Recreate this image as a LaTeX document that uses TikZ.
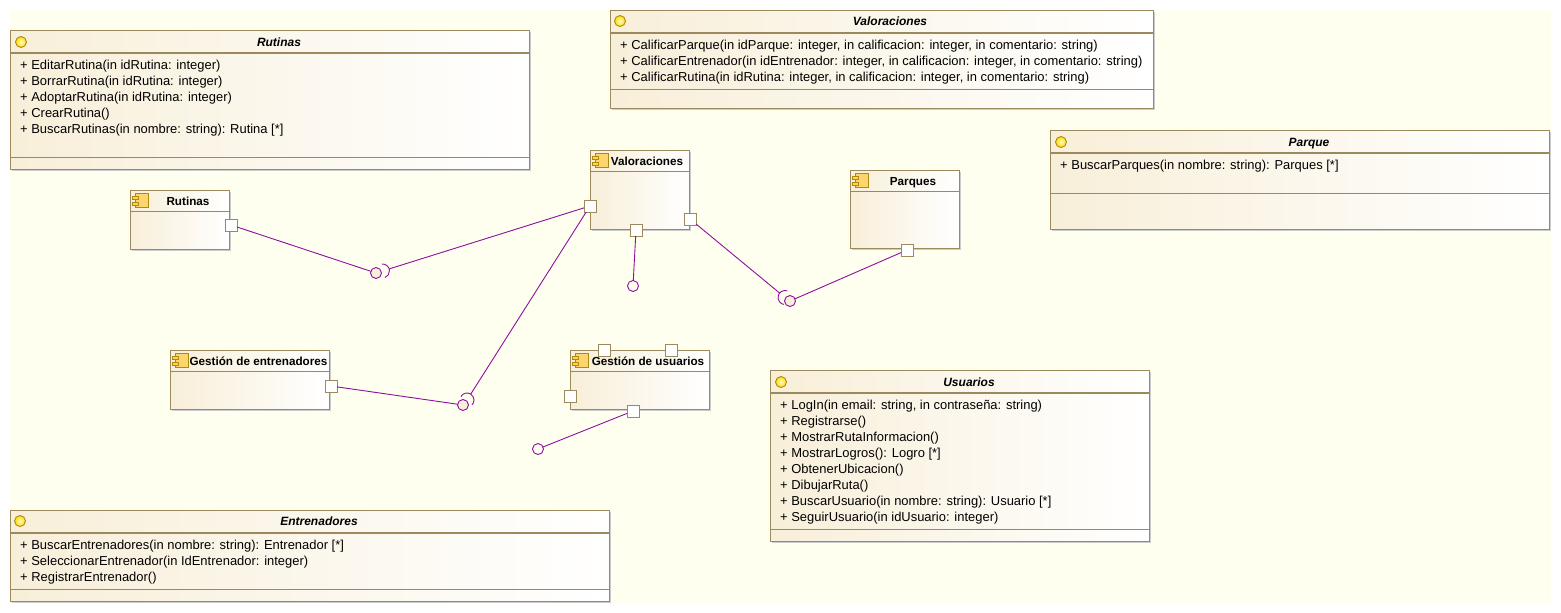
\documentclass[tikz,border=0pt]{standalone}
\usepackage{fontspec}
\setmainfont{Liberation Sans}
\usetikzlibrary{shadows}
\definecolor{canvas}{HTML}{FFFFF0}
\definecolor{boxedge}{HTML}{9C8A5E}
\definecolor{boxtint}{HTML}{F8EFD9}
\definecolor{conn}{HTML}{8E0F9E}
\definecolor{iconedge}{HTML}{B08A10}
\tikzset {
    boxbase/.style = {
        rectangle, draw = boxedge, line width = 1pt, inner sep = 0pt, outer sep = 0pt,
        anchor = north west, left color = boxtint, right color = white,
        drop shadow = {shadow xshift = 1.5pt, shadow yshift = -1.5pt, fill = black!20, opacity = 1}
    },
    sepline/.style = {draw = boxedge, line width = 1pt},
    headline/.style = {draw = boxedge, line width = 2pt},
    method/.style = {anchor = west, inner sep = 0pt, yshift = -1.5pt, text height = 9pt, text depth = 3pt, font = \fontsize{12.95}{14}\selectfont},
    ifacetitle/.style = {inner sep = 0pt, yshift = -1pt, text height = 9pt, text depth = 3pt, font = \fontsize{12}{14}\selectfont\bfseries\itshape},
    comptitle/.style = {inner sep = 0pt, yshift = -1pt, text height = 9pt, text depth = 3pt, font = \fontsize{11.7}{14}\selectfont\bfseries},
    port/.style = {rectangle, draw = boxedge, fill = white, line width = 1pt, minimum size = 12pt, inner sep = 0pt, outer sep = 0pt},
    ball/.style = {circle, draw = conn, line width = .9pt, minimum size = 11pt, inner sep = 0pt, outer sep = 0pt},
    filledball/.style = {ball, fill = boxtint},
    openball/.style = {ball, fill = canvas},
    socket/.style = {circle, minimum size = 14pt, inner sep = 0pt, outer sep = 0pt},
    wire/.style = {draw = conn, line width = .9pt},
    lollipop/.style = {circle, draw = iconedge, line width = .9pt, minimum size = 11pt, inner sep = 0pt, inner color = yellow!20, outer color = yellow!70!orange},
    compicon/.pic = {
        \draw [iconedge, fill = yellow!45!orange!55, line width = .9pt] (-4, -7) rectangle (9, 7);
        \draw [iconedge, fill = yellow!60!orange!70, line width = .9pt] (-7, -4) rectangle (-1, -1);
        \draw [iconedge, fill = yellow!60!orange!70, line width = .9pt] (-7, 2) rectangle (-1, 5);
    }
}

\begin{document}
\begin{tikzpicture}[x = 1pt, y = -1pt]
    \useasboundingbox (0, 0) rectangle (1561, 613);
    \fill [canvas] (10, 10) rectangle (1551, 603);
    % interfaces
    \node (rutinasIf) [boxbase, minimum width = 519pt, minimum height = 139pt] at (10, 30) {};
    \draw [headline] (10, 52.5) -- (529, 52.5);
    \draw [sepline] (10, 157) -- (529, 157);
    \node (rutinasDot) [lollipop] at (21, 42) {};
    \node (rutinasTitle) [ifacetitle] at (279, 42) {Rutinas};
    \foreach \txt [count = \i, evaluate = \i as \ypos using 49 + 16 * \i] in {
        {+ EditarRutina(in idRutina: integer)},
        {+ BorrarRutina(in idRutina: integer)},
        {+ AdoptarRutina(in idRutina: integer)},
        {+ CrearRutina()},
        {+ BuscarRutinas(in nombre: string): Rutina [*]}
    } {
        \node (rutinasM\i) [method] at (20, \ypos) {\txt};
    }
    \node (valorIf) [boxbase, minimum width = 543pt, minimum height = 98pt] at (610, 10) {};
    \draw [headline] (610, 33) -- (1153, 33);
    \draw [sepline] (610, 89) -- (1153, 89);
    \node (valorDot) [lollipop] at (620, 21) {};
    \node (valorTitle) [ifacetitle] at (890, 21) {Valoraciones};
    \foreach \txt [count = \i, evaluate = \i as \ypos using 29 + 16 * \i] in {
        {+ CalificarParque(in idParque: integer, in calificacion: integer, in comentario: string)},
        {+ CalificarEntrenador(in idEntrenador: integer, in calificacion: integer, in comentario: string)},
        {+ CalificarRutina(in idRutina: integer, in calificacion: integer, in comentario: string)}
    } {
        \node (valorM\i) [method] at (620, \ypos) {\txt};
    }
    \node (parqueIf) [boxbase, minimum width = 499pt, minimum height = 99pt] at (1050, 130) {};
    \draw [headline] (1050, 153) -- (1549, 153);
    \draw [sepline] (1050, 193) -- (1549, 193);
    \node (parqueDot) [lollipop] at (1061, 142) {};
    \node (parqueTitle) [ifacetitle] at (1309, 142) {Parque};
    \node (parqueM1) [method] at (1060, 165) {+ BuscarParques(in nombre: string): Parques [*]};
    \node (usuariosIf) [boxbase, minimum width = 379pt, minimum height = 171pt] at (770, 370) {};
    \draw [headline] (770, 393) -- (1149, 393);
    \draw [sepline] (770, 529) -- (1149, 529);
    \node (usuariosDot) [lollipop] at (781, 382) {};
    \node (usuariosTitle) [ifacetitle] at (969, 382) {Usuarios};
    \foreach \txt [count = \i, evaluate = \i as \ypos using 389 + 16 * \i] in {
        {+ LogIn(in email: string, in contraseña: string)},
        {+ Registrarse()},
        {+ MostrarRutaInformacion()},
        {+ MostrarLogros(): Logro [*]},
        {+ ObtenerUbicacion()},
        {+ DibujarRuta()},
        {+ BuscarUsuario(in nombre: string): Usuario [*]},
        {+ SeguirUsuario(in idUsuario: integer)}
    } {
        \node (usuariosM\i) [method] at (780, \ypos) {\txt};
    }
    \node (entrenIf) [boxbase, minimum width = 599pt, minimum height = 91pt] at (10, 510) {};
    \draw [headline] (10, 533) -- (609, 533);
    \draw [sepline] (10, 589) -- (609, 589);
    \node (entrenDot) [lollipop] at (20, 521) {};
    \node (entrenTitle) [ifacetitle] at (319, 521) {Entrenadores};
    \foreach \txt [count = \i, evaluate = \i as \ypos using 529 + 16 * \i] in {
        {+ BuscarEntrenadores(in nombre: string): Entrenador [*]},
        {+ SeleccionarEntrenador(in IdEntrenador: integer)},
        {+ RegistrarEntrenador()}
    } {
        \node (entrenM\i) [method] at (20, \ypos) {\txt};
    }
    % components
    \node (rutinasC) [boxbase, minimum width = 99pt, minimum height = 59pt] at (130, 190) {};
    \draw [sepline] (130, 211) -- (229, 211);
    \pic at (139, 200.5) {compicon};
    \node (rutinasName) [comptitle] at (188, 201) {Rutinas};
    \node (valorC) [boxbase, minimum width = 99pt, minimum height = 79pt] at (590, 150) {};
    \draw [sepline] (590, 171) -- (689, 171);
    \pic at (599, 160.5) {compicon};
    \node (valorName) [comptitle] at (647, 161) {Valoraciones};
    \node (parquesC) [boxbase, minimum width = 109pt, minimum height = 78pt] at (850, 170) {};
    \draw [sepline] (850, 191) -- (959, 191);
    \pic at (859, 180.5) {compicon};
    \node (parquesName) [comptitle] at (913, 181) {Parques};
    \node (gestEntC) [boxbase, minimum width = 159pt, minimum height = 59pt] at (170, 350) {};
    \draw [sepline] (170, 371) -- (329, 371);
    \pic at (179, 360.5) {compicon};
    \node (gestEntName) [comptitle] at (258.5, 361) {Gestión de entrenadores};
    \node (gestUsuC) [boxbase, minimum width = 139pt, minimum height = 59pt] at (570, 350) {};
    \draw [sepline] (570, 371) -- (709, 371);
    \pic at (579, 360.5) {compicon};
    \node (gestUsuName) [comptitle] at (648, 361) {Gestión de usuarios};
    % ports
    \node (rutinasP) [port] at (231, 225) {};
    \node (valorPl) [port] at (590, 206) {};
    \node (valorPb) [port] at (636, 230) {};
    \node (valorPr) [port] at (690, 219) {};
    \node (parquesP) [port] at (907, 250) {};
    \node (gestEntP) [port] at (331, 386) {};
    \node (gestUsuPa) [port] at (604, 350) {};
    \node (gestUsuPb) [port] at (671, 350) {};
    \node (gestUsuPl) [port] at (570, 396) {};
    \node (gestUsuPd) [port] at (633, 411) {};
    % balls and sockets
    \node (ballA) [filledball] at (376, 273) {};
    \node (sockA) [socket] at (382.5, 271) {};
    \node (ballB) [openball] at (633, 286) {};
    \node (ballC) [filledball] at (790, 301) {};
    \node (sockC) [socket] at (785, 297.5) {};
    \node (ballD) [filledball] at (463, 405) {};
    \node (sockD) [socket] at (467, 400) {};
    \node (ballE) [openball] at (538, 449) {};
    \draw [wire] (sockA.95) arc [start angle = 95, end angle = -70, radius = 7pt];
    \draw [wire] (sockC.70) arc [start angle = 70, end angle = 260, radius = 7pt];
    \draw [wire] (sockD.150) arc [start angle = 150, end angle = -45, radius = 7pt];
    % connectors
    \draw [wire] (rutinasP) -- (ballA);
    \draw [wire] (valorPl) -- (sockA);
    \draw [wire] (valorPl) -- (sockD);
    \draw [wire] (gestEntP) -- (ballD);
    \draw [wire] (valorPb) -- (ballB);
    \draw [wire] (valorPr) -- (sockC);
    \draw [wire] (parquesP) -- (ballC);
    \draw [wire] (gestUsuPd) -- (ballE);
\end{tikzpicture}
\end{document}
